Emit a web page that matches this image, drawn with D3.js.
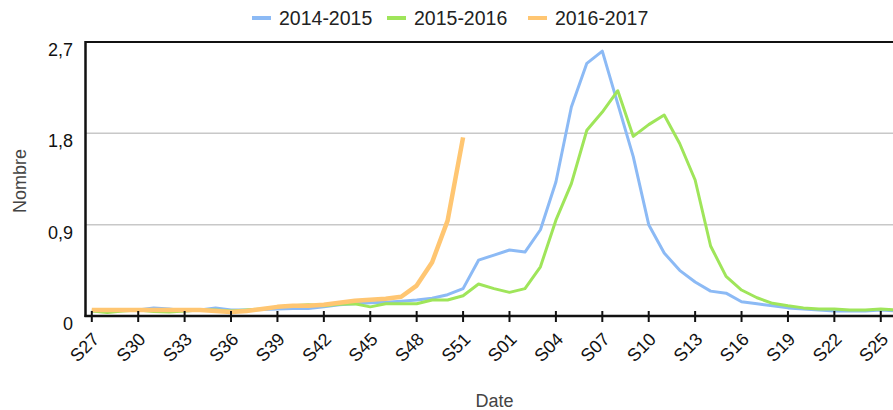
<!DOCTYPE html>
<html>
<head>
<meta charset="utf-8">
<script src="https://cdn.jsdelivr.net/npm/d3@7"></script>
<style>
  html, body { margin: 0; padding: 0; background: #fff; }
  svg { display: block; font-family: Arial, "Liberation Sans", sans-serif; }
</style>
</head>
<body>
<svg id="chart" width="893" height="410"></svg>
<script>
const weeks = [
  "S27","S28","S29","S30","S31","S32","S33","S34","S35","S36","S37","S38","S39","S40",
  "S41","S42","S43","S44","S45","S46","S47","S48","S49","S50","S51","S52","S53",
  "S01","S02","S03","S04","S05","S06","S07","S08","S09","S10","S11","S12","S13","S14",
  "S15","S16","S17","S18","S19","S20","S21","S22","S23","S24","S25","S26"
];
const seriesNames = ["2014-2015", "2015-2016", "2016-2017"];
const s2014 = [
  0.05,0.05,0.06,0.06,0.08,0.07,0.05,0.06,0.08,0.06,0.06,0.065,0.07,0.075,
  0.075,0.09,0.11,0.12,0.13,0.135,0.145,0.157,0.175,0.21,0.27,0.55,0.60,
  0.65,0.63,0.85,1.32,2.06,2.49,2.61,2.09,1.57,0.90,0.62,0.45,0.335,0.245,
  0.225,0.14,0.12,0.10,0.08,0.07,0.06,0.05,0.05,0.05,0.06,0.05
];
const s2015 = [
  0.05,0.035,0.05,0.06,0.045,0.04,0.05,0.06,0.06,0.05,0.06,0.07,0.09,0.10,
  0.11,0.10,0.115,0.12,0.09,0.12,0.12,0.12,0.157,0.157,0.20,0.315,0.27,
  0.233,0.27,0.485,0.944,1.305,1.83,2.01,2.22,1.77,1.886,1.98,1.70,1.34,0.69,
  0.39,0.256,0.18,0.125,0.10,0.08,0.07,0.07,0.06,0.06,0.07,0.06
];
const s2016 = [
  0.06,0.06,0.06,0.06,0.06,0.06,0.06,0.06,0.05,0.04,0.05,0.07,0.09,0.10,
  0.10,0.11,0.13,0.15,0.16,0.17,0.19,0.30,0.53,0.94,1.76
];
const yTicks = [0, 0.9, 1.8, 2.7];
const colors = ["#8cbaf5", "#9fe55a", "#ffc672"];
const widths = [3, 3, 4.5];

const svg = d3.select("#chart");
const pLeft = 85.5, pTop = 42, pBottom = 316, pRight = 900;

const x = d3.scalePoint().domain(weeks).range([91.8, 91.8 + 15.47 * (weeks.length - 1)]);
const y = d3.scaleLinear().domain([0, 2.7]).range([pBottom, pTop]);

// grid lines
svg.append("g").selectAll("line").data(yTicks.filter(d => d > 0 && d < 2.7)).join("line")
  .attr("x1", pLeft).attr("x2", pRight)
  .attr("y1", d => y(d)).attr("y2", d => y(d))
  .attr("stroke", "#c8c8c8").attr("stroke-width", 1.5);

// top frame line
svg.append("line").attr("x1", pLeft).attr("x2", pRight)
  .attr("y1", y(2.7)).attr("y2", y(2.7))
  .attr("stroke", "#111").attr("stroke-width", 2);

// y tick labels
const fmt = d => d3.format(".1f")(d).replace(".", ",");
svg.append("g").selectAll("text").data(yTicks).join("text")
  .attr("x", 73).attr("y", d => y(d) + 14)
  .attr("text-anchor", "end")
  .attr("font-size", 18).attr("fill", "#111")
  .text(d => d === 0 ? "0" : fmt(d));

// clip
svg.append("clipPath").attr("id", "clip").append("rect")
  .attr("x", pLeft).attr("y", pTop - 10).attr("width", pRight - pLeft).attr("height", pBottom - pTop + 12);

const line = d3.line()
  .defined(d => d.v != null)
  .x(d => x(d.w)).y(d => y(d.v));

const allSeries = [s2014, s2015, s2016];
const g = svg.append("g").attr("clip-path", "url(#clip)");
allSeries.forEach((s, i) => {
  const pts = weeks.map((w, j) => ({ w, v: j < s.length ? s[j] : null }));
  g.append("path").datum(pts)
    .attr("d", line)
    .attr("fill", "none")
    .attr("stroke", colors[i])
    .attr("stroke-width", widths[i])
    .attr("stroke-linejoin", "round");
});

// axes lines
svg.append("line").attr("x1", pLeft).attr("x2", pLeft).attr("y1", pTop - 1).attr("y2", pBottom + 1)
  .attr("stroke", "#111").attr("stroke-width", 2.5);
svg.append("line").attr("x1", pLeft - 1).attr("x2", pRight).attr("y1", pBottom).attr("y2", pBottom)
  .attr("stroke", "#111").attr("stroke-width", 2.5);

// x ticks
const tickWeeks = weeks.filter((w, i) => i % 3 === 0);
const xt = svg.append("g");
xt.selectAll("line").data(tickWeeks).join("line")
  .attr("x1", d => x(d)).attr("x2", d => x(d))
  .attr("y1", pBottom - 5).attr("y2", pBottom + 6)
  .attr("stroke", "#111").attr("stroke-width", 2);
xt.selectAll("text").data(tickWeeks).join("text")
  .attr("transform", d => `translate(${x(d) + 4},${pBottom + 20}) rotate(-45)`)
  .attr("text-anchor", "end")
  .attr("dy", "0.35em")
  .attr("font-size", 18).attr("fill", "#111")
  .text(d => d);

// axis titles
svg.append("text").attr("x", 494.5).attr("y", 407)
  .attr("text-anchor", "middle").attr("font-size", 18).attr("fill", "#444").text("Date");
svg.append("text").attr("transform", "translate(26,181) rotate(-90)")
  .attr("text-anchor", "middle").attr("font-size", 18).attr("fill", "#444").text("Nombre");

// legend
const legendX = [252, 387, 528];
const lg = svg.append("g");
seriesNames.forEach((n, i) => {
  lg.append("line").attr("x1", legendX[i]).attr("x2", legendX[i] + 19)
    .attr("y1", 18).attr("y2", 18)
    .attr("stroke", colors[i]).attr("stroke-width", 4);
  lg.append("text").attr("x", legendX[i] + 27).attr("y", 25)
    .attr("font-size", 19.5).attr("fill", "#222").text(n);
});
</script>
</body>
</html>
